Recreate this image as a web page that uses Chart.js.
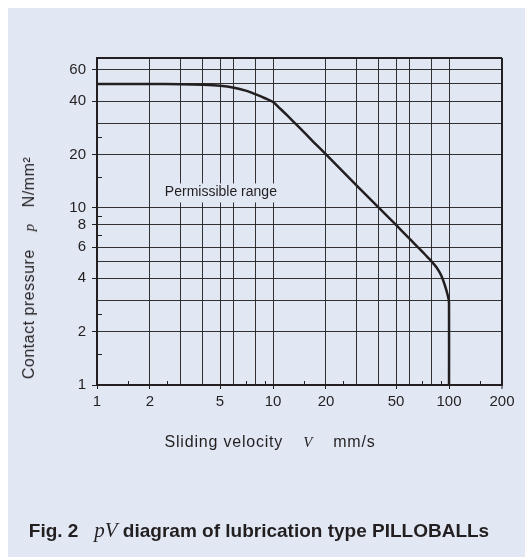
<!DOCTYPE html>
<html>
<head>
<meta charset="utf-8">
<script src="https://cdn.jsdelivr.net/npm/chart.js@4/dist/chart.umd.min.js"></script>
<style>
  html, body { margin: 0; padding: 0; background: #fff; }
  body { width: 529px; height: 557px; position: relative; overflow: hidden; font-family: 'Liberation Sans', Arial, sans-serif; color: #231f20; }
  .panel { position: absolute; left: 8px; top: 8px; width: 517px; height: 549px; background: #e1e8f4; }
  #wrap { position: absolute; left: 0; top: 0; width: 529px; height: 557px; }
  .ytitle { position: absolute; left: 29px; top: 268px; transform: translate(-50%, -50%) rotate(-90deg); white-space: nowrap; font-size: 16px; line-height: 16px; letter-spacing: 0.5px; }
  .xtitle { position: absolute; left: 270px; top: 434px; transform: translateX(-50%); white-space: nowrap; font-size: 16px; line-height: 16px; letter-spacing: 0.8px; }
  .sym { font-family: 'Liberation Serif', 'DejaVu Serif', serif; font-style: italic; font-size: 15px; }
  .caption { position: absolute; left: 259px; top: 521px; transform: translateX(-50%); white-space: nowrap; font-size: 19px; line-height: 19px; font-weight: bold; }
  .caption .sym { font-weight: normal; font-size: 21px; }
</style>
</head>
<body>
<div class="panel"></div>
<div id="wrap"><canvas id="myChart" width="529" height="557"></canvas></div>
<div class="ytitle">Contact pressure<span class="sym" style="margin:0 16px 0 18px">p</span>N/mm²</div>
<div class="xtitle">Sliding velocity<span class="sym" style="margin:0 20px 0 20px">V</span>mm/s</div>
<div class="caption">Fig. 2&nbsp;&nbsp;&nbsp;<span class="sym">pV</span> diagram of lubrication type PILLOBALLs</div>
<script>
const CHART = document.getElementById('myChart').getContext('2d');

const velocity = [1, 2, 3, 4, 5, 6, 7, 8, 9, 10, 11, 12, 14, 17, 20, 30, 40, 50, 60, 70, 75, 80, 85, 90, 93, 96, 98, 99.5, 100, 100];
const pressure = [50, 50, 49.8, 49.4, 48.8, 47.6, 45.8, 43.6, 41.5, 39.5, 36.2, 33.3, 28.6, 23.5, 20, 13.3, 10, 8, 6.65, 5.7, 5.3, 4.95, 4.6, 4.18, 3.85, 3.5, 3.25, 3.05, 2.9, 1];

const xGrid = [1, 2, 3, 4, 5, 6, 8, 10, 20, 30, 40, 50, 60, 80, 100, 200];
const xLabels = [1, 2, 5, 10, 20, 50, 100, 200];
const xMinor = [1.5, 2.5, 7, 9, 15, 25, 70, 90, 150];

const yGrid = [1, 2, 3, 4, 5, 6, 8, 10, 20, 30, 40, 50, 60, 70];
const yLabels = [1, 2, 4, 6, 8, 10, 20, 40, 60];
const yMinor = [1.5, 2.5, 7, 9, 15, 25];

const rangeLabel = 'Permissible range';
const rangeAt = [2.43, 12.2];

const INK = '#231f20';
const GRID = 'rgba(35, 31, 32, 0.92)';
const PANEL = '#e1e8f4';

const minorTicks = {
  id: 'minorTicks',
  afterDraw(chart) {
    const { ctx, chartArea, scales } = chart;
    ctx.save();
    ctx.strokeStyle = INK;
    ctx.lineWidth = 1;
    xMinor.forEach((v) => {
      const px = Math.round(scales.x.getPixelForValue(v)) + 0.5;
      ctx.beginPath();
      ctx.moveTo(px, chartArea.bottom);
      ctx.lineTo(px, chartArea.bottom - 4);
      ctx.stroke();
    });
    yMinor.forEach((v) => {
      const py = Math.round(scales.y.getPixelForValue(v)) + 0.5;
      ctx.beginPath();
      ctx.moveTo(chartArea.left, py);
      ctx.lineTo(chartArea.left + 5, py);
      ctx.stroke();
    });
    ctx.restore();
  },
};

const rangeText = {
  id: 'rangeText',
  afterDatasetsDraw(chart) {
    const { ctx, scales } = chart;
    const px = scales.x.getPixelForValue(rangeAt[0]);
    const py = scales.y.getPixelForValue(rangeAt[1]);
    ctx.save();
    ctx.font = '14px "Liberation Sans", Arial, sans-serif';
    const w = ctx.measureText(rangeLabel).width;
    ctx.fillStyle = PANEL;
    ctx.fillRect(px - 2, py - 9, w + 4, 19);
    ctx.fillStyle = INK;
    ctx.textBaseline = 'middle';
    ctx.textAlign = 'left';
    ctx.fillText(rangeLabel, px, py);
    ctx.restore();
  },
};

const tickFont = { family: '"Liberation Sans", Arial, sans-serif', size: 15 };

let pvChart = new Chart(CHART, {
  type: 'line',
  data: {
    datasets: [
      {
        data: velocity.map((v, i) => ({ x: v, y: pressure[i] })),
        borderColor: INK,
        borderWidth: 2.5,
        pointRadius: 0,
        tension: 0.3,
        fill: false,
      },
    ],
  },
  options: {
    responsive: false,
    animation: false,
    layout: { padding: { left: 0, top: 58, right: 27, bottom: 0 } },
    plugins: { legend: { display: false }, tooltip: { enabled: false } },
    scales: {
      x: {
        type: 'logarithmic',
        min: 1,
        max: 200,
        afterBuildTicks: (scale) => {
          scale.ticks = xGrid.map((v) => ({ value: v }));
        },
        afterFit: (scale) => {
          scale.height = 172;
        },
        ticks: {
          autoSkip: false,
          maxRotation: 0,
          padding: 4,
          color: INK,
          font: tickFont,
          callback: (v) => (xLabels.includes(v) ? String(v) : ''),
        },
        grid: {
          color: (c) => (c.tick && c.tick.value === 200 ? INK : GRID),
          lineWidth: (c) => (c.tick && c.tick.value === 200 ? 2 : 1),
          tickLength: 4,
          tickColor: (c) => (c.tick && xLabels.includes(c.tick.value) ? INK : 'transparent'),
          tickWidth: 1,
        },
        border: { display: true, color: INK, width: 2 },
      },
      y: {
        type: 'logarithmic',
        min: 1,
        max: 70,
        afterBuildTicks: (scale) => {
          scale.ticks = yGrid.map((v) => ({ value: v }));
        },
        afterFit: (scale) => {
          scale.width = 97;
        },
        ticks: {
          autoSkip: false,
          padding: 6,
          color: INK,
          font: tickFont,
          callback: (v) => (yLabels.includes(v) ? String(v) : ''),
        },
        grid: {
          color: (c) => (c.tick && c.tick.value === 70 ? INK : GRID),
          lineWidth: (c) => (c.tick && c.tick.value === 70 ? 2 : 1),
          tickLength: 5,
          tickColor: (c) => (c.tick && yLabels.includes(c.tick.value) ? INK : 'transparent'),
          tickWidth: 1,
        },
        border: { display: true, color: INK, width: 2 },
      },
    },
  },
  plugins: [minorTicks, rangeText],
});
</script>
</body>
</html>
